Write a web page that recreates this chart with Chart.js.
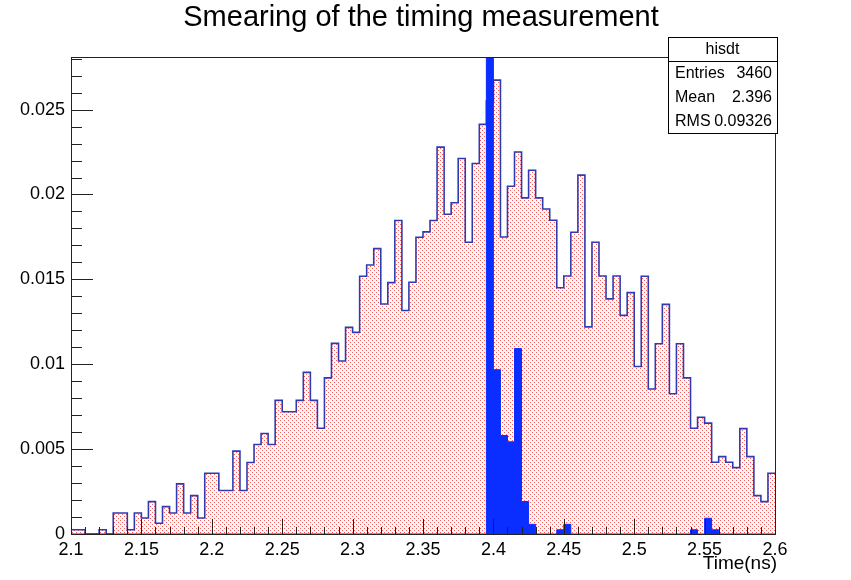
<!DOCTYPE html>
<html>
<head>
<meta charset="utf-8">
<script src="https://cdn.jsdelivr.net/npm/chart.js@4.4.0/dist/chart.umd.min.js"></script>
<style>
  html, body { margin: 0; padding: 0; background: #fff; }
</style>
</head>
<body>
<canvas id="hisdt" width="851" height="580"></canvas>
<script>
// binning of both histograms
var binLow = 2.1;
var binWidth = 0.005;

// smeared timing (dotted red fill, blue outline), one value per bin
var smearedHist = [
  0.00025, 0.00025, 0, 0, 0.00025, 0, 0.00124, 0.00124, 0.00025, 0.00124,
  0.00094, 0.00191, 0.00063, 0.00161, 0.00124, 0.00295, 0.00124, 0.00226, 0.00094, 0.00358,
  0.00358, 0.00256, 0.00256, 0.00488, 0.00256, 0.00421, 0.00527, 0.00592, 0.00527, 0.00787,
  0.0072, 0.0072, 0.00787, 0.00952, 0.00787, 0.00623, 0.0092, 0.01123, 0.01019, 0.01217,
  0.01188, 0.01518, 0.01585, 0.01681, 0.01355, 0.01481, 0.01847, 0.01317, 0.01483, 0.01748,
  0.0178, 0.01847, 0.02279, 0.01884, 0.01951, 0.02212, 0.01719, 0.02183, 0.02413, 0.0255,
  0.02674, 0.0175, 0.02049, 0.0225, 0.0198, 0.02143, 0.0198, 0.01915, 0.01848, 0.01451,
  0.0152, 0.01778, 0.02114, 0.0122, 0.01719, 0.0152, 0.01385, 0.0152, 0.01288, 0.01422,
  0.00987, 0.01518, 0.00854, 0.01121, 0.01353, 0.00826, 0.01121, 0.0092, 0.00623, 0.00688,
  0.00653, 0.00423, 0.00456, 0.00423, 0.00391, 0.00621, 0.00456, 0.00226, 0.00191, 0.00358
];

// unsmeared timing (solid blue), one value per bin
var trueHist = [
  0, 0, 0, 0, 0, 0, 0, 0, 0, 0,
  0, 0, 0, 0, 0, 0, 0, 0, 0, 0,
  0, 0, 0, 0, 0, 0, 0, 0, 0, 0,
  0, 0, 0, 0, 0, 0, 0, 0, 0, 0,
  0, 0, 0, 0, 0, 0, 0, 0, 0, 0,
  0, 0, 0, 0, 0, 0, 0, 0, 0, 0.031,
  0.00968, 0.0058, 0.00543, 0.01093, 0.00191, 0.00057, 0, 0, 0, 0.00025,
  0.00057, 0, 0, 0, 0, 0, 0, 0, 0, 0,
  0, 0, 0, 0, 0, 0, 0, 0, 0.00025, 0,
  0.00093, 0.00025, 0, 0, 0, 0, 0, 0, 0, 0
];

var xTickValues = [2.1, 2.15, 2.2, 2.25, 2.3, 2.35, 2.4, 2.45, 2.5, 2.55, 2.6];
var xTickLabels = ['2.1', '2.15', '2.2', '2.25', '2.3', '2.35', '2.4', '2.45', '2.5', '2.55', '2.6'];
var yTickValues = [0, 0.005, 0.01, 0.015, 0.02, 0.025];
var yTickLabels = ['0', '0.005', '0.01', '0.015', '0.02', '0.025'];

var statsTitle = 'hisdt';
var statsNames = ['Entries', 'Mean', 'RMS'];
var statsValues = ['3460', '2.396', '0.09326'];

var FONT = "'Liberation Sans', Arial, sans-serif";

function stepPoints(vals) {
  var pts = vals.map(function (v, i) {
    return { x: binLow + i * binWidth, y: v };
  });
  pts.push({ x: binLow + vals.length * binWidth, y: vals[vals.length - 1] });
  return pts;
}

function dotPattern(ctx) {
  var c = document.createElement('canvas');
  c.width = 4;
  c.height = 4;
  var g = c.getContext('2d');
  g.fillStyle = '#ff5a5a';
  g.fillRect(0, 0, 1, 1);
  g.fillRect(2, 2, 1, 1);
  return ctx.createPattern(c, 'repeat');
}

// ROOT style frame, inner ticks, stats box and titles
var rootDecor = {
  id: 'rootDecor',
  afterDatasetsDraw: function (chart) {
    var ctx = chart.ctx;
    var a = chart.chartArea;
    var xs = chart.scales.x;
    var ys = chart.scales.y;
    ctx.save();
    ctx.strokeStyle = '#222';
    ctx.lineWidth = 1;
    ctx.beginPath();
    // y ticks: major 0.005, minor 0.001
    for (var k = 0; k * 0.001 <= ys.max + 1e-9; k++) {
      var py = Math.round(ys.getPixelForValue(k * 0.001)) + 0.5;
      var len = (k % 5 === 0) ? 22 : 11;
      ctx.moveTo(a.left, py);
      ctx.lineTo(a.left + len, py);
    }
    // x ticks: major 0.05, minor 0.01
    for (var j = 0; j <= 50; j++) {
      var px = Math.round(xs.getPixelForValue(binLow + j * 0.01)) + 0.5;
      var tl = (j % 5 === 0) ? 15 : 7;
      ctx.moveTo(px, a.bottom);
      ctx.lineTo(px, a.bottom - tl);
    }
    ctx.stroke();
    ctx.strokeRect(Math.round(a.left) + 0.5, Math.round(a.top) + 0.5,
      Math.round(a.right - a.left), Math.round(a.bottom - a.top));
    ctx.restore();
  },
  afterDraw: function (chart) {
    var ctx = chart.ctx;
    ctx.save();
    ctx.fillStyle = '#000';
    ctx.textBaseline = 'middle';

    ctx.font = '29px ' + FONT;
    ctx.textAlign = 'center';
    ctx.fillText('Smearing of the timing measurement', 421, 18);

    ctx.font = '19px ' + FONT;
    ctx.textAlign = 'right';
    ctx.fillText('Time(ns)', 777, 564);

    // stats box
    var bx = 668, by = 37, bw = 109, bh = 96, rh = 24;
    ctx.fillStyle = '#fff';
    ctx.fillRect(bx, by, bw, bh);
    ctx.strokeStyle = '#000';
    ctx.lineWidth = 1;
    ctx.strokeRect(bx + 0.5, by + 0.5, bw, bh);
    ctx.beginPath();
    ctx.moveTo(bx, by + rh + 0.5);
    ctx.lineTo(bx + bw, by + rh + 0.5);
    ctx.stroke();
    ctx.fillStyle = '#000';
    ctx.font = '16px ' + FONT;
    ctx.textAlign = 'center';
    ctx.fillText(statsTitle, bx + bw / 2, by + rh / 2 + 1);
    for (var i = 0; i < statsNames.length; i++) {
      var ty = by + rh * (i + 1) + rh / 2 + 1;
      ctx.textAlign = 'left';
      ctx.fillText(statsNames[i], bx + 7, ty);
      ctx.textAlign = 'right';
      ctx.fillText(statsValues[i], bx + bw - 5, ty);
    }
    ctx.restore();
  }
};

var ctx = document.getElementById('hisdt').getContext('2d');
var chart = new Chart(ctx, {
  type: 'line',
  data: {
    datasets: [{
      label: 'true',
      data: stepPoints(trueHist),
      stepped: 'before',
      fill: 'origin',
      backgroundColor: '#0a2eff',
      borderColor: '#0a2eff',
      borderWidth: 1,
      pointRadius: 0,
      order: 0
    }, {
      label: 'hisdt',
      data: stepPoints(smearedHist),
      stepped: 'before',
      fill: 'origin',
      backgroundColor: dotPattern(ctx),
      borderColor: '#2b3cb2',
      borderWidth: 1.6,
      pointRadius: 0,
      order: 1
    }]
  },
  options: {
    responsive: false,
    animation: false,
    layout: {
      padding: { top: 57, right: 76, left: 0, bottom: 0 }
    },
    plugins: {
      legend: { display: false },
      tooltip: { enabled: false },
      title: { display: false }
    },
    scales: {
      x: {
        type: 'linear',
        min: 2.1,
        max: 2.6,
        grid: { display: false, drawTicks: false },
        border: { display: false },
        afterBuildTicks: function (s) {
          s.ticks = xTickValues.map(function (v) { return { value: v }; });
        },
        afterFit: function (s) { s.height = 46; },
        ticks: {
          padding: 5,
          maxRotation: 0,
          autoSkip: false,
          color: '#000',
          font: { family: FONT, size: 18 },
          callback: function (v, i) { return xTickLabels[i]; }
        }
      },
      y: {
        min: 0,
        max: 0.0281,
        grid: { display: false, drawTicks: false },
        border: { display: false },
        afterBuildTicks: function (s) {
          s.ticks = yTickValues.map(function (v) { return { value: v }; });
        },
        afterFit: function (s) { s.width = 71; },
        ticks: {
          padding: 6,
          autoSkip: false,
          color: '#000',
          font: { family: FONT, size: 18 },
          callback: function (v, i) { return yTickLabels[i]; }
        }
      }
    }
  },
  plugins: [rootDecor]
});
</script>
</body>
</html>
